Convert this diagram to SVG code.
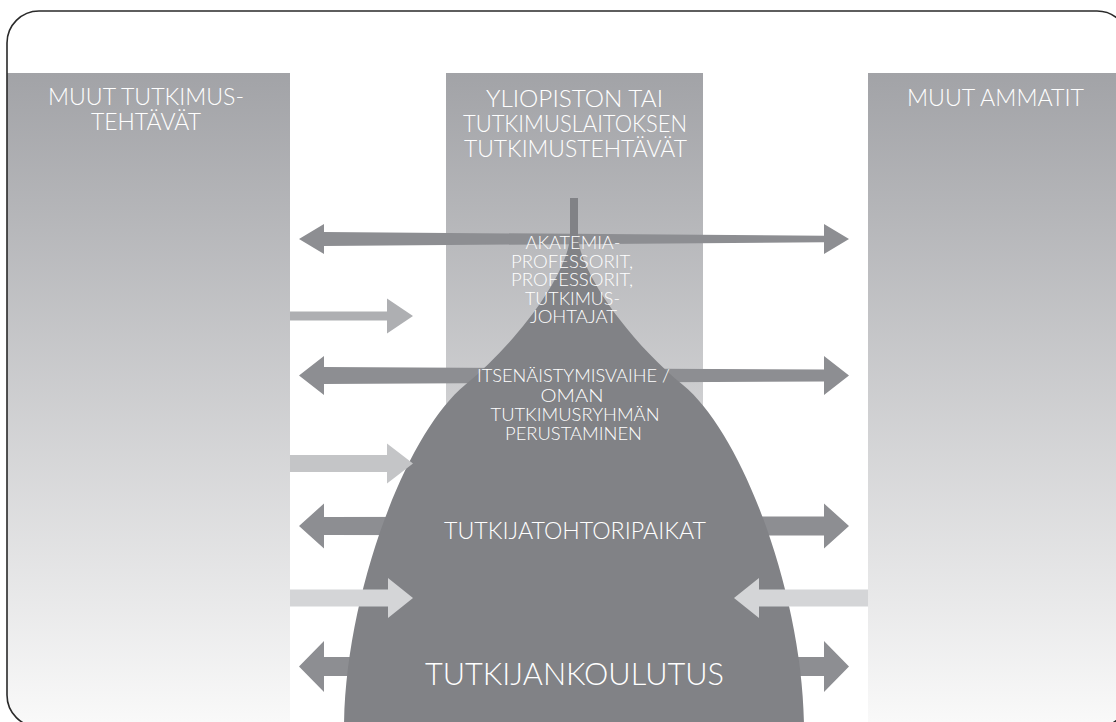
<svg xmlns="http://www.w3.org/2000/svg" width="1116" height="722" viewBox="0 0 1116 722">
  <defs>
    <linearGradient id="colGrad" gradientUnits="userSpaceOnUse" x1="0" y1="73" x2="0" y2="722">
      <stop offset="0" stop-color="#a2a3a7"/>
      <stop offset="1" stop-color="#f9f9f9"/>
    </linearGradient>
    <clipPath id="frameClip">
      <rect x="7" y="11" width="1122" height="716" rx="32" ry="32"/>
    </clipPath>
    <style>
      .col { fill: url(#colGrad); }
      .dark { fill: #8d8e92; }
      .shape { fill: #818286; }
      .lbl { font-family: Lato, "Open Sans", "DejaVu Sans", sans-serif; font-weight: 300; fill: #ffffff; text-anchor: middle; }
      .hdr { font-size: 22.5px; }
      .sm { font-size: 17px; }
    </style>
  </defs>

  <rect x="7" y="11" width="1122" height="716" rx="32" ry="32" fill="#ffffff"/>

  <g clip-path="url(#frameClip)">
    <g id="col-left"><rect class="col" x="6" y="73" width="284" height="660"/></g>
    <g id="col-middle"><rect class="col" x="446" y="73" width="257" height="340"/></g>
    <g id="col-right"><rect class="col" x="868" y="73" width="260" height="660"/></g>
  </g>

  <g id="connectors">
    <polygon class="dark" points="299,239 324,224 324,232 824,235.7 824,224 849,239 824,254 824,242.3 324,246 324,254"/>
    <polygon class="dark" points="299,375.5 324,356 324,367 824,369.5 824,356 849,375.5 824,395 824,381.5 324,384 324,395"/>
    <polygon class="dark" points="299,526 324,503.5 324,517 824,516.5 824,503.5 849,526 824,548.5 824,535.5 324,535 324,548.5"/>
    <polygon class="dark" points="299,666.5 324,641 324,657 824,657 824,641 849,666.5 824,692 824,676 324,676 324,692"/>
  </g>

  <g id="pyramid">
    <path class="shape" d="M570,198 H578 V235 C578,270 628,340 683,385 C744,435 804,600 804,730 H344 C344,600 404,435 465,385 C520,340 570,270 570,235 Z"/>
  </g>

  <g id="connectors-inflow">
    <polygon fill="#aeafb2" points="290,311.5 387,311.5 387,298.5 413,316 387,333.5 387,320.5 290,320.5"/>
    <polygon fill="#c4c5c7" points="290,455 387,455 387,443.5 413,463.5 387,483.5 387,472 290,472"/>
    <polygon fill="#d4d5d7" points="290,589.5 388,589.5 388,578 413,598 388,618 388,606.5 290,606.5"/>
    <polygon fill="#d4d5d7" points="868,589.5 759,589.5 759,578 734,598 759,618 759,606.5 868,606.5"/>
  </g>

  <g id="label-left">
    <text class="lbl hdr" x="146" y="105" textLength="196" lengthAdjust="spacingAndGlyphs">MUUT TUTKIMUS-</text>
    <text class="lbl hdr" x="146" y="130" textLength="110" lengthAdjust="spacingAndGlyphs">TEHTÄVÄT</text>
  </g>
  <g id="label-middle">
    <text class="lbl hdr" x="574.5" y="106.5" textLength="177" lengthAdjust="spacingAndGlyphs">YLIOPISTON TAI</text>
    <text class="lbl hdr" x="575" y="131.5" textLength="224" lengthAdjust="spacingAndGlyphs">TUTKIMUSLAITOKSEN</text>
    <text class="lbl hdr" x="575.5" y="156.5" textLength="223" lengthAdjust="spacingAndGlyphs">TUTKIMUSTEHTÄVÄT</text>
  </g>
  <g id="label-right">
    <text class="lbl hdr" x="995.5" y="106" textLength="177" lengthAdjust="spacingAndGlyphs">MUUT AMMATIT</text>
  </g>

  <g id="level-professors">
    <text class="lbl sm" x="573" y="249" textLength="95" lengthAdjust="spacingAndGlyphs">AKATEMIA-</text>
    <text class="lbl sm" x="572" y="267.5" textLength="122" lengthAdjust="spacingAndGlyphs">PROFESSORIT,</text>
    <text class="lbl sm" x="572" y="286" textLength="122" lengthAdjust="spacingAndGlyphs">PROFESSORIT,</text>
    <text class="lbl sm" x="572.5" y="304.5" textLength="95" lengthAdjust="spacingAndGlyphs">TUTKIMUS-</text>
    <text class="lbl sm" x="573.5" y="322.5" textLength="87" lengthAdjust="spacingAndGlyphs">JOHTAJAT</text>
  </g>
  <g id="level-independence">
    <text class="lbl sm" x="573.5" y="382" textLength="193" lengthAdjust="spacingAndGlyphs">ITSENÄISTYMISVAIHE /</text>
    <text class="lbl sm" x="572" y="401.5" textLength="63" lengthAdjust="spacingAndGlyphs">OMAN</text>
    <text class="lbl sm" x="575" y="421" textLength="169" lengthAdjust="spacingAndGlyphs">TUTKIMUSRYHMÄN</text>
    <text class="lbl sm" x="573.5" y="440" textLength="137" lengthAdjust="spacingAndGlyphs">PERUSTAMINEN</text>
  </g>
  <g id="level-postdoc">
    <text class="lbl" x="575" y="538.5" font-size="23" textLength="262" lengthAdjust="spacingAndGlyphs">TUTKIJATOHTORIPAIKAT</text>
  </g>
  <g id="level-doctoral">
    <text class="lbl" x="574.5" y="685" font-size="31" textLength="299" lengthAdjust="spacingAndGlyphs">TUTKIJANKOULUTUS</text>
  </g>

  <rect x="7" y="11" width="1122" height="716" rx="32" ry="32" fill="none" stroke="#2a2a2a" stroke-width="1.6"/>
</svg>
